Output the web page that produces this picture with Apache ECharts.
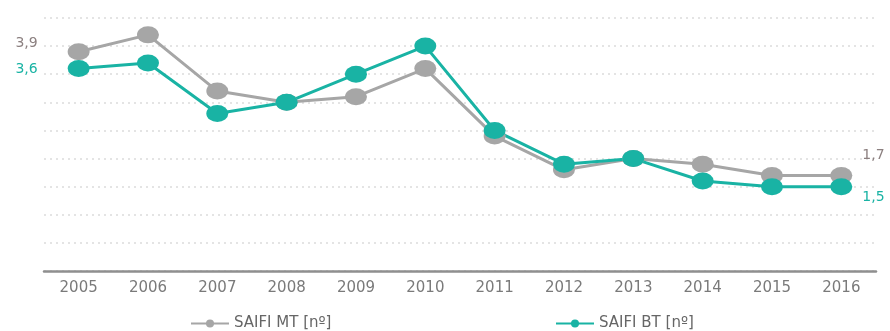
<!DOCTYPE html>
<html><head><meta charset="utf-8">
<script src="https://cdn.jsdelivr.net/npm/echarts@6/dist/echarts.min.js"></script>
<style>html,body{margin:0;padding:0;background:#fff}#c{width:890px;height:331px}</style>
</head><body><div id="c"></div>
<script>
const years = ['2005','2006','2007','2008','2009','2010','2011','2012','2013','2014','2015','2016'];
const saifiMT = [3.9, 4.2, 3.2, 3.0, 3.1, 3.6, 2.4, 1.8, 2.0, 1.9, 1.7, 1.7];
const saifiBT = [3.6, 3.7, 2.8, 3.0, 3.5, 4.0, 2.5, 1.9, 2.0, 1.6, 1.5, 1.5];
const nameMT = 'SAIFI MT [nº]';
const nameBT = 'SAIFI BT [nº]';
const colMT = '#a6a6a6', colBT = '#19b3a4';
const fmt = v => String(v.toFixed(1)).replace('.', ',');
const FONT = '"DejaVu Sans", Verdana, sans-serif';

function build(vals, color, firstOff, lastOff) {
  const lc = color === colMT ? '#8c8080' : color;
  return vals.map((v, i) => {
    if (i === 0) return {value: v, label: {show: true, position: 'left', distance: 30, offset: firstOff, color: lc, formatter: p => fmt(p.value)}};
    if (i === vals.length - 1) return {value: v, label: {show: true, position: 'right', distance: 10, offset: lastOff, color: lc, formatter: p => fmt(p.value)}};
    return v;
  });
}

const chart = echarts.init(document.getElementById('c'));
chart.setOption({
  animation: false,
  textStyle: {fontFamily: FONT},
  grid: {left: 44, right: 14, top: 18, bottom: 60},
  legend: [
    {data: [nameMT], left: 185, top: 311, itemWidth: 38, itemHeight: 10, itemGap: 4,
     textStyle: {color: '#666', fontSize: 15, fontFamily: FONT}},
    {data: [nameBT], left: 550, top: 311, itemWidth: 38, itemHeight: 10, itemGap: 4,
     textStyle: {color: '#666', fontSize: 15, fontFamily: FONT}}
  ],
  xAxis: {
    type: 'category', data: years, boundaryGap: true,
    axisLine: {lineStyle: {color: '#8f8f8f', width: 2.5}},
    axisTick: {show: false},
    axisLabel: {color: '#7a7a7a', fontSize: 15, margin: 10, fontFamily: FONT}
  },
  yAxis: {
    type: 'value', min: 0, max: 4.5, interval: 0.5,
    axisLabel: {show: false}, axisLine: {show: false}, axisTick: {show: false},
    splitLine: {lineStyle: {color: '#dcdcdc', type: [2, 4], width: 1.5}}
  },
  series: [
    {name: nameMT, type: 'line', data: build(saifiMT, colMT, [0, -8], [0, -20]),
     color: colMT, lineStyle: {width: 3}, symbol: 'circle', symbolSize: [22, 17],
     itemStyle: {color: colMT}, label: {fontSize: 14, fontFamily: FONT}},
    {name: nameBT, type: 'line', data: build(saifiBT, colBT, [0, 1], [0, 11]),
     color: colBT, lineStyle: {width: 3}, symbol: 'circle', symbolSize: [22, 17],
     itemStyle: {color: colBT}, label: {fontSize: 14, fontFamily: FONT}, z: 3}
  ]
});
</script></body></html>
